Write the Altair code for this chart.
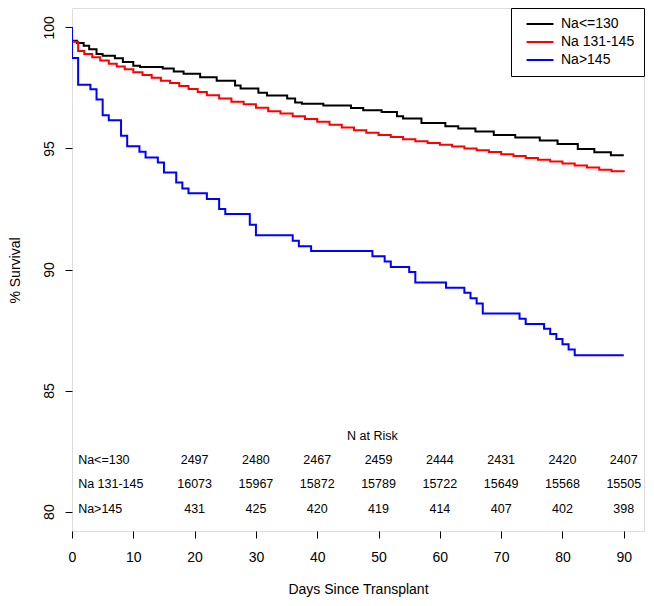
import altair as alt
import pandas as pd

# ---------------- data ----------------
groups = ["Na<=130", "Na 131-145", "Na>145"]
colors = ["#000000", "#FF0000", "#0000FF"]

low_days = [0, 0, 0.8, 1.9, 2.8, 4.0, 5.0, 7.0, 8.3, 10.0, 11.1, 14.8, 16.6, 18.2,
            20.9, 23.6, 26.6, 27.5, 30.4, 31.8, 35.1, 36.4, 37.5, 41.0, 45.5, 47.5,
            50.5, 53.0, 54.0, 57.0, 60.9, 63.0, 65.8, 68.8, 72.3, 76.3, 79.2, 82.5,
            85.2, 87.9, 90]
low_surv = [100, 99.45, 99.35, 99.24, 99.1, 98.9, 98.83, 98.72, 98.57, 98.42, 98.36,
            98.3, 98.18, 98.08, 97.94, 97.8, 97.6, 97.48, 97.3, 97.19, 97.06, 96.9,
            96.85, 96.77, 96.67, 96.58, 96.5, 96.33, 96.24, 96.05, 95.92, 95.82,
            95.7, 95.56, 95.45, 95.33, 95.18, 94.98, 94.84, 94.72, 94.72]

mid_days = [0, 0, 1.0, 2.0, 3.3, 4.6, 6.0, 7.3, 8.6, 10.0, 11.5, 13.0, 14.5, 16.0,
            17.5, 19.0, 20.5, 22.0, 24.0, 26.0, 28.0, 30.0, 32.0, 34.0, 36.0, 38.0,
            40.0, 42.0, 44.0, 46.0, 48.0, 50.0, 52.0, 54.0, 56.0, 58.0, 60.0, 62.0,
            64.0, 66.0, 68.0, 70.0, 72.0, 74.0, 76.0, 78.0, 80.0, 82.0, 84.0, 86.0,
            88.0, 90]
mid_surv = [100, 99.41, 99.02, 98.9, 98.77, 98.63, 98.5, 98.38, 98.27, 98.15, 98.03,
            97.92, 97.8, 97.7, 97.58, 97.45, 97.33, 97.2, 97.06, 96.93, 96.82, 96.68,
            96.54, 96.44, 96.33, 96.22, 96.1, 95.98, 95.86, 95.75, 95.65, 95.56,
            95.47, 95.38, 95.3, 95.22, 95.15, 95.08, 95.0, 94.93, 94.85, 94.76,
            94.69, 94.61, 94.53, 94.46, 94.38, 94.3, 94.21, 94.12, 94.06, 94.03]

high_days = [0, 0, 1, 3, 4, 5, 6, 8, 9, 11, 12, 14, 15, 17, 18, 19, 22, 24, 25, 29,
             30, 36, 37, 39, 49, 51, 52, 55, 56, 61, 64, 65, 66, 67, 73, 74, 77, 78,
             79, 80, 81, 82, 90]
high_surv = [100, 98.73, 97.63, 97.44, 97.02, 96.37, 96.16, 95.52, 95.09, 94.86,
             94.63, 94.42, 94.01, 93.59, 93.35, 93.15, 92.91, 92.5, 92.29, 91.85,
             91.41, 91.19, 90.96, 90.76, 90.55, 90.33, 90.1, 89.9, 89.46, 89.25,
             89.04, 88.81, 88.6, 88.18, 87.97, 87.75, 87.55, 87.34, 87.13, 86.91,
             86.7, 86.46, 86.46]

risk_days = [20, 30, 40, 50, 60, 70, 80, 90]
risk_low = [2497, 2480, 2467, 2459, 2444, 2431, 2420, 2407]
risk_mid = [16073, 15967, 15872, 15789, 15722, 15649, 15568, 15505]
risk_high = [431, 425, 420, 419, 414, 407, 402, 398]
risk_rows = [82, 81, 80]
risk_title = "N at Risk"
x_ticks = [0, 10, 20, 30, 40, 50, 60, 70, 80, 90]
y_ticks = [80, 85, 90, 95, 100]

# ---------------- tables ----------------
rows = []
for g, ds, ss in zip(groups, [low_days, mid_days, high_days], [low_surv, mid_surv, high_surv]):
    for i, (d, s) in enumerate(zip(ds, ss)):
        rows.append({"group": g, "day": d, "surv": s, "idx": i})
curves = pd.DataFrame(rows)

num_rows = []
for yv, vals in zip(risk_rows, [risk_low, risk_mid, risk_high]):
    for d, v in zip(risk_days, vals):
        num_rows.append({"day": d, "surv": yv, "label": str(v)})
numbers = pd.DataFrame(num_rows)
row_labels = pd.DataFrame({"day": [1] * 3, "surv": risk_rows, "label": groups})
heading = pd.DataFrame({"day": [49], "surv": [83], "label": [risk_title]})

FONT = "Liberation Sans"
NARROW = "Liberation Sans Narrow, Liberation Sans"

x_scale = alt.Scale(domain=[0, 93.3], nice=False, zero=False)
y_scale = alt.Scale(domain=[79.2, 100.8], nice=False, zero=False)

x_axis = alt.Axis(values=x_ticks, title="Days Since Transplant", grid=False, domain=False,
                  tickSize=7, tickColor="black", labelPadding=12, labelFontSize=14,
                  labelFont=FONT, labelColor="black", titleFont=FONT, titleFontSize=14,
                  titleFontWeight="normal", titleColor="black", titleY=58,
                  titleBaseline="middle", labelFlush=False)
y_axis = alt.Axis(values=y_ticks, title="% Survival", grid=False, domain=False,
                  tickSize=7, tickColor="black", labelPadding=9, labelFontSize=14,
                  labelFont=FONT, labelColor="black", labelAngle=-90,
                  labelAlign="center", labelBaseline="bottom", titleFont=FONT,
                  titleFontSize=14, titleFontWeight="normal", titleColor="black",
                  titleAngle=-90, titleX=-57, titleY=262, titleAlign="center",
                  titleBaseline="middle", labelFlush=False)

X = alt.X("day:Q", scale=x_scale, axis=x_axis)
Y = alt.Y("surv:Q", scale=y_scale, axis=y_axis)

lines = alt.Chart(curves).mark_line(interpolate="step-after", strokeWidth=2, clip=True).encode(
    x=X, y=Y,
    color=alt.Color("group:N", scale=alt.Scale(domain=groups, range=colors),
                    legend=alt.Legend(title=None, orient="top-right", offset=0,
                                      strokeColor="black", fillColor="white",
                                      padding=9, symbolType="M-3.6,0H3.6",
                                      symbolStrokeWidth=2, symbolSize=56,
                                      symbolOffset=13, labelOffset=14,
                                      rowPadding=4, labelFontSize=14, labelFont=FONT,
                                      labelColor="black", cornerRadius=0)),
    order="idx:Q",
)

nums = alt.Chart(numbers).mark_text(font=NARROW, fontSize=12.5, color="black",
                                    align="center", baseline="middle", dy=-3).encode(
    x=X, y=Y, text="label:N")
labs = alt.Chart(row_labels).mark_text(font=NARROW, fontSize=12.5, color="black",
                                       align="left", baseline="middle", dy=-3).encode(
    x=X, y=Y, text="label:N")
head = alt.Chart(heading).mark_text(font=NARROW, fontSize=12.5, color="black",
                                    align="center", baseline="middle", dy=-3).encode(
    x=X, y=Y, text="label:N")

chart = alt.layer(lines, nums, labs, head).properties(
    width=572, height=523,
    autosize=alt.AutoSizeParams(type="none"),
    padding={"left": 64, "top": 0, "right": 2, "bottom": 70},
).configure_view(stroke="black", strokeWidth=1).configure(background="white")

chart.save("out.html", embed_options={"renderer": "svg", "actions": False})
